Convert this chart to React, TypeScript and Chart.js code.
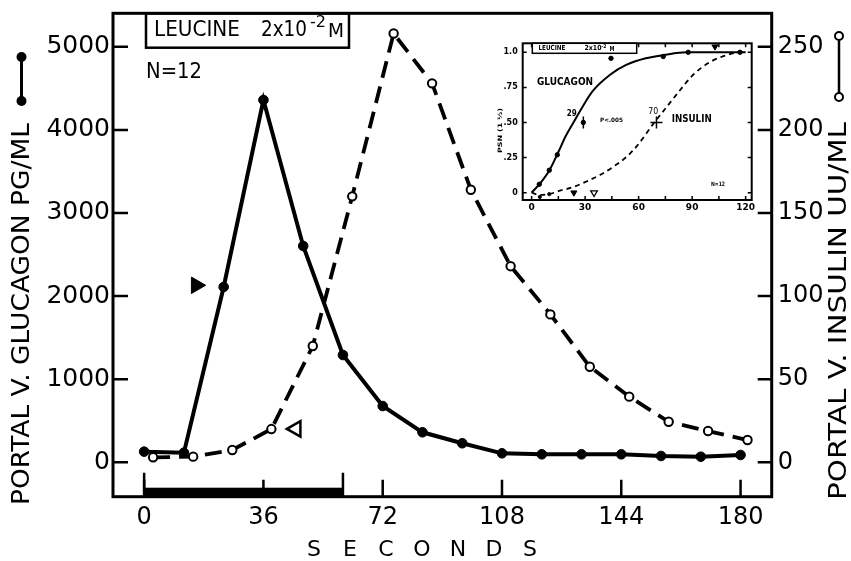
import React, { useEffect, useRef } from "react";
import { Chart, registerables } from "chart.js";
Chart.register(...registerables);

// ---------- main chart data ----------
const glucagonSeconds = [0, 12, 24, 36, 48, 60, 72, 84, 96, 108, 120, 132, 144, 156, 168, 180];
const glucagonPgMl = [128, 116, 2110, 4360, 2603, 1291, 677, 361, 229, 108, 96, 96, 96, 76, 67, 88];
const insulinSeconds = [2.7, 14.8, 26.6, 38.4, 50.9, 62.8, 75.3, 86.9, 98.6, 110.6, 122.6, 134.5, 146.4, 158.3, 170.2, 182.1];
const insulinUuMl = [3.0, 3.4, 7.4, 20, 70, 160, 258, 228, 164, 118, 89, 57.5, 39.5, 24.4, 18.8, 13.4];
const xTickValues = [0, 36, 72, 108, 144, 180];
const leftTickValues = [0, 1000, 2000, 3000, 4000, 5000];
const rightTickValues = [0, 50, 100, 150, 200, 250];
const infusionStart = 0;
const infusionEnd = 60;
const glucagonMarkerX = [15.7];
const glucagonMarkerY = [2130];
const insulinMarkerX = [45.8];
const insulinMarkerY = [20.1];

// ---------- inset data ----------
const insetGlucagonCurveX = [0, 5, 10, 15, 19, 23, 28, 34, 44, 53, 64, 74, 87, 120];
const insetGlucagonCurveY = [0, 0.07, 0.16, 0.29, 0.4, 0.49, 0.6, 0.72, 0.84, 0.91, 0.957, 0.98, 1.0, 1.0];
const insetInsulinCurveX = [0, 4.6, 9.9, 15.9, 23.3, 30.8, 38.3, 45.8, 53.3, 58.9, 68.2, 75.7, 83.2, 90.6, 100, 109.4, 116.8, 120];
const insetInsulinCurveY = [0, -0.016, -0.01, 0.014, 0.04, 0.08, 0.126, 0.185, 0.256, 0.33, 0.49, 0.61, 0.73, 0.84, 0.93, 0.98, 1.0, 1.0];
const insetGlucagonDotsX = [4.3, 9.9, 14.4, 44.5, 73.8, 87.8, 116.8];
const insetGlucagonDotsY = [0.06, 0.16, 0.27, 0.957, 0.97, 1.0, 1.0];
const insetInsulinDotsX = [4.6, 9.9];
const insetInsulinDotsY = [-0.03, -0.01];
const insetFilledDownX = [23.7, 102.8];
const insetFilledDownY = [0, 1.04];
const insetOpenDownX = [35];
const insetOpenDownY = [0];
const glucagonHalfTime = [29];
const insulinHalfTime = [70];
const halfLevel = [0.5];
const insetXTicks = [0, 30, 60, 90, 120];
const insetYTicks = [0, 0.25, 0.5, 0.75, 1.0];
const insetYTickLabels = ["0", ".25", ".50", ".75", "1.0"];

const FONT = "'DejaVu Sans', sans-serif";
const W = 851;
const H = 561;

function pts(xs: number[], ys: number[]) {
  return xs.map((x, i) => ({ x, y: ys[i] }));
}

function fitText(ctx: CanvasRenderingContext2D, text: string, cx: number, cy: number, length: number, font: string, rotate: boolean) {
  ctx.save();
  ctx.font = font;
  const w = ctx.measureText(text).width;
  ctx.translate(cx, cy);
  if (rotate) ctx.rotate(-Math.PI / 2);
  ctx.scale(length / w, 1);
  ctx.textAlign = "center";
  ctx.textBaseline = "middle";
  ctx.fillStyle = "#000";
  ctx.fillText(text, 0, 0);
  ctx.restore();
}

function noPad(s: any) {
  s.paddingTop = 0;
  s.paddingBottom = 0;
  s.paddingLeft = 0;
  s.paddingRight = 0;
}

const mainDecor = {
  id: "mainDecor",
  afterDraw(chart: any) {
    const ctx: CanvasRenderingContext2D = chart.ctx;
    const { left, right, top, bottom } = chart.chartArea;
    const xs = chart.scales.x;
    const yl = chart.scales.y;
    const yr = chart.scales.y1;
    ctx.save();
    ctx.strokeStyle = "#000";
    ctx.fillStyle = "#000";
    ctx.lineCap = "butt";
    // frame
    ctx.lineWidth = 3;
    ctx.strokeRect(left, top, right - left, bottom - top);
    // inward ticks
    ctx.lineWidth = 2.5;
    ctx.beginPath();
    leftTickValues.forEach((v) => {
      const y = yl.getPixelForValue(v);
      ctx.moveTo(left, y);
      ctx.lineTo(left + 15, y);
    });
    rightTickValues.forEach((v) => {
      const y = yr.getPixelForValue(v);
      ctx.moveTo(right, y);
      ctx.lineTo(right - 14, y);
    });
    xTickValues.forEach((v) => {
      const x = xs.getPixelForValue(v);
      ctx.moveTo(x, bottom);
      ctx.lineTo(x, bottom - 17);
    });
    ctx.stroke();
    // infusion bar
    const bx0 = xs.getPixelForValue(infusionStart);
    const bx1 = xs.getPixelForValue(infusionEnd);
    ctx.fillRect(bx0, bottom - 9, bx1 - bx0, 9);
    ctx.beginPath();
    ctx.moveTo(bx0, bottom);
    ctx.lineTo(bx0, bottom - 24);
    ctx.moveTo(bx1, bottom);
    ctx.lineTo(bx1, bottom - 24);
    ctx.stroke();

    // axis titles
    fitText(ctx, "PORTAL V. GLUCAGON PG/ML", 22.5, 314, 382, `24px ${FONT}`, true);
    fitText(ctx, "PORTAL V. INSULIN UU/ML", 840, 311, 378, `24px ${FONT}`, true);
    // x title
    ctx.font = `22px ${FONT}`;
    ctx.textAlign = "center";
    ctx.textBaseline = "middle";
    "SECONDS".split("").forEach((ch, i) => {
      ctx.fillText(ch, 314 + i * 36, 550);
    });

    // legend glyph left (filled)
    ctx.lineWidth = 3;
    ctx.beginPath();
    ctx.moveTo(21.5, 57);
    ctx.lineTo(21.5, 101);
    ctx.stroke();
    ctx.beginPath();
    ctx.arc(21.5, 57, 5, 0, Math.PI * 2);
    ctx.fill();
    ctx.beginPath();
    ctx.arc(21.5, 101, 5, 0, Math.PI * 2);
    ctx.fill();
    // legend glyph right (open)
    ctx.lineWidth = 2.5;
    ctx.beginPath();
    ctx.moveTo(839, 40);
    ctx.lineTo(839, 93);
    ctx.stroke();
    ctx.fillStyle = "#fff";
    ctx.lineWidth = 2;
    ctx.beginPath();
    ctx.arc(839, 36, 4, 0, Math.PI * 2);
    ctx.fill();
    ctx.stroke();
    ctx.beginPath();
    ctx.arc(839, 97, 4, 0, Math.PI * 2);
    ctx.fill();
    ctx.stroke();
    ctx.fillStyle = "#000";

    // label box
    ctx.lineWidth = 2.5;
    ctx.strokeRect(146, top, 203, 47.7 - top);
    fitText(ctx, "LEUCINE", 197, 31, 86, `21px ${FONT}`, false);
    fitText(ctx, "2x10", 284, 31, 46, `21px ${FONT}`, false);
    fitText(ctx, "-2", 318, 23, 16, `15px ${FONT}`, false);
    fitText(ctx, "M", 336, 32, 16, `19px ${FONT}`, false);
    // N=12
    fitText(ctx, "N=12", 174, 72, 56, `22px ${FONT}`, false);
    ctx.restore();
  },
};

const insetDecor = {
  id: "insetDecor",
  afterDraw(chart: any) {
    const ctx: CanvasRenderingContext2D = chart.ctx;
    const { left, right, top, bottom } = chart.chartArea;
    const xs = chart.scales.x;
    const ys = chart.scales.y;
    ctx.save();
    ctx.strokeStyle = "#000";
    ctx.fillStyle = "#000";
    ctx.lineWidth = 2;
    ctx.strokeRect(left, top, right - left, bottom - top);
    ctx.lineWidth = 1.5;
    ctx.beginPath();
    for (let v = 0; v <= 120; v += 15) {
      const x = xs.getPixelForValue(v);
      ctx.moveTo(x, bottom);
      ctx.lineTo(x, bottom - 4);
      ctx.moveTo(x, top);
      ctx.lineTo(x, top + 4);
    }
    insetYTicks.forEach((v) => {
      const y = ys.getPixelForValue(v);
      ctx.moveTo(left, y);
      ctx.lineTo(left + 4, y);
      ctx.moveTo(right, y);
      ctx.lineTo(right - 4, y);
    });
    ctx.stroke();
    // leucine box
    ctx.lineWidth = 1.5;
    ctx.fillStyle = "#fff";
    ctx.fillRect(42.3, top, 104.4, 10);
    ctx.fillStyle = "#000";
    ctx.strokeRect(42.3, top, 104.4, 10);
    fitText(ctx, "LEUCINE", 62, 13.6, 27, `bold 7px ${FONT}`, false);
    fitText(ctx, "2x10", 103, 13.6, 17, `bold 7px ${FONT}`, false);
    fitText(ctx, "-2", 114, 11.5, 5, `bold 5px ${FONT}`, false);
    fitText(ctx, "M", 122, 14, 5, `bold 7px ${FONT}`, false);
    fitText(ctx, "GLUCAGON", 75, 47, 56, `bold 11px ${FONT}`, false);
    fitText(ctx, "INSULIN", 201.7, 84.5, 40, `bold 10px ${FONT}`, false);
    fitText(ctx, "29", 81.7, 78.5, 10, `bold 9px ${FONT}`, false);
    fitText(ctx, "70", 163.3, 77, 10, `9px ${FONT}`, false);
    fitText(ctx, "P<.005", 121.5, 85.5, 23, `bold 6px ${FONT}`, false);
    fitText(ctx, "N=12", 228, 149, 14, `bold 6px ${FONT}`, false);
    fitText(ctx, "PSN (1 \u00bd)", 10, 95.5, 45, `bold 6px ${FONT}`, true);
    ctx.restore();
  },
};

function MainChart() {
  const ref = useRef<HTMLCanvasElement>(null);
  useEffect(() => {
    const canvas = ref.current!;
    const chart = new Chart(canvas, {
      type: "line",
      data: {
        datasets: [
          {
            label: "glucagonMarker",
            data: pts(glucagonMarkerX, glucagonMarkerY),
            showLine: false,
            yAxisID: "y",
            pointStyle: "triangle",
            rotation: 90,
            pointRadius: 9.5,
            backgroundColor: "#000",
            borderColor: "#000",
            borderWidth: 1,
          },
          {
            label: "insulinMarker",
            data: pts(insulinMarkerX, insulinMarkerY),
            showLine: false,
            yAxisID: "y1",
            pointStyle: "triangle",
            rotation: -90,
            pointRadius: 9,
            backgroundColor: "#fff",
            borderColor: "#000",
            borderWidth: 2.5,
          },
          {
            label: "Glucagon",
            data: pts(glucagonSeconds, glucagonPgMl),
            yAxisID: "y",
            borderColor: "#000",
            backgroundColor: "#000",
            borderWidth: 4,
            pointRadius: 4.8,
            pointBorderWidth: 1,
            pointBackgroundColor: "#000",
            tension: 0,
          },
          {
            label: "Insulin",
            data: pts(insulinSeconds, insulinUuMl),
            yAxisID: "y1",
            borderColor: "#000",
            borderWidth: 3.8,
            borderDash: [17, 9],
            pointRadius: 4.2,
            pointBorderWidth: 2,
            pointBackgroundColor: "#fff",
            pointBorderColor: "#000",
            tension: 0,
          },
        ],
      },
      options: {
        animation: false,
        responsive: false,
        devicePixelRatio: 1,
        events: [],
        layout: { padding: { top: 13.3, left: 0, right: 0, bottom: 0 } },
        plugins: { legend: { display: false }, tooltip: { enabled: false } },
        scales: {
          x: {
            type: "linear",
            min: -9.4,
            max: 189.4,
            afterBuildTicks: (s: any) => {
              s.ticks = xTickValues.map((v) => ({ value: v }));
            },
            afterFit: (s: any) => {
              s.height = H - 496.7;
              noPad(s);
            },
            grid: { display: false, drawTicks: false },
            border: { display: false },
            ticks: {
              autoSkip: false,
              maxRotation: 0,
              padding: 7,
              color: "#000",
              font: { family: FONT, size: 24 },
              callback: (v: any) => String(v),
            },
          },
          y: {
            position: "left",
            min: -414,
            max: 5403,
            afterBuildTicks: (s: any) => {
              s.ticks = leftTickValues.map((v) => ({ value: v }));
            },
            afterFit: (s: any) => {
              s.width = 113;
              noPad(s);
            },
            grid: { display: false, drawTicks: false },
            border: { display: false },
            ticks: { padding: 3, color: "#000", font: { family: FONT, size: 25 }, callback: (v: any) => String(v) },
          },
          y1: {
            position: "right",
            min: -20.7,
            max: 270.15,
            afterBuildTicks: (s: any) => {
              s.ticks = rightTickValues.map((v) => ({ value: v }));
            },
            afterFit: (s: any) => {
              s.width = W - 771.7;
              noPad(s);
            },
            grid: { display: false, drawTicks: false },
            border: { display: false },
            ticks: { padding: 6, color: "#000", font: { family: FONT, size: 24 }, callback: (v: any) => String(v) },
          },
        },
      },
      plugins: [mainDecor],
    } as any);
    return () => chart.destroy();
  }, []);
  return <canvas ref={ref} width={W} height={H} style={{ position: "absolute", left: 0, top: 0 }} />;
}

function InsetChart() {
  const ref = useRef<HTMLCanvasElement>(null);
  useEffect(() => {
    const canvas = ref.current!;
    const chart = new Chart(canvas, {
      type: "line",
      data: {
        datasets: [
          {
            label: "glucagonCurve",
            data: pts(insetGlucagonCurveX, insetGlucagonCurveY),
            borderColor: "#000",
            borderWidth: 2,
            pointRadius: 0,
            cubicInterpolationMode: "monotone",
          },
          {
            label: "insulinCurve",
            data: pts(insetInsulinCurveX, insetInsulinCurveY),
            borderColor: "#000",
            borderWidth: 1.8,
            borderDash: [5, 4],
            pointRadius: 0,
            cubicInterpolationMode: "monotone",
          },
          {
            label: "glucagonDots",
            data: pts(insetGlucagonDotsX, insetGlucagonDotsY),
            showLine: false,
            pointRadius: 2.2,
            pointBackgroundColor: "#000",
            pointBorderColor: "#000",
          },
          {
            label: "insulinDots",
            data: pts(insetInsulinDotsX, insetInsulinDotsY),
            showLine: false,
            pointRadius: 1.6,
            pointBackgroundColor: "#000",
            pointBorderColor: "#000",
          },
          {
            label: "filledDown",
            data: pts(insetFilledDownX, insetFilledDownY),
            showLine: false,
            pointStyle: "triangle",
            rotation: 180,
            pointRadius: 3.5,
            pointBackgroundColor: "#000",
            pointBorderColor: "#000",
          },
          {
            label: "openDown",
            data: pts(insetOpenDownX, insetOpenDownY),
            showLine: false,
            pointStyle: "triangle",
            rotation: 180,
            pointRadius: 3.8,
            pointBorderWidth: 1.3,
            pointBackgroundColor: "#fff",
            pointBorderColor: "#000",
          },
          {
            label: "glucagonHalfBar",
            data: pts(glucagonHalfTime, halfLevel),
            showLine: false,
            pointStyle: "line",
            rotation: 90,
            pointRadius: 6,
            pointBorderWidth: 1.5,
            pointBorderColor: "#000",
          },
          {
            label: "glucagonHalfDot",
            data: pts(glucagonHalfTime, halfLevel),
            showLine: false,
            pointRadius: 2.2,
            pointBackgroundColor: "#000",
            pointBorderColor: "#000",
          },
          {
            label: "insulinHalf",
            data: pts(insulinHalfTime, halfLevel),
            showLine: false,
            pointStyle: "cross",
            pointRadius: 6,
            pointBorderWidth: 1.5,
            pointBorderColor: "#000",
          },
        ],
      },
      options: {
        animation: false,
        responsive: false,
        devicePixelRatio: 1,
        events: [],
        layout: { padding: { top: 8.3, left: 0, right: 8.3, bottom: 0 } },
        plugins: { legend: { display: false }, tooltip: { enabled: false } },
        scales: {
          x: {
            type: "linear",
            min: -5,
            max: 123.4,
            afterBuildTicks: (s: any) => {
              s.ticks = insetXTicks.map((v) => ({ value: v }));
            },
            afterFit: (s: any) => {
              s.height = 20;
              noPad(s);
            },
            grid: { display: false, drawTicks: false },
            border: { display: false },
            ticks: {
              autoSkip: false,
              maxRotation: 0,
              padding: 2,
              color: "#000",
              font: { family: FONT, size: 9, weight: "bold" },
            },
          },
          y: {
            min: -0.052,
            max: 1.064,
            afterBuildTicks: (s: any) => {
              s.ticks = insetYTicks.map((v) => ({ value: v }));
            },
            afterFit: (s: any) => {
              s.width = 32.7;
              noPad(s);
            },
            grid: { display: false, drawTicks: false },
            border: { display: false },
            ticks: {
              padding: 5,
              color: "#000",
              font: { family: FONT, size: 8, weight: "bold" },
              callback: (v: any) => {
                const i = insetYTicks.indexOf(Number(v));
                return i >= 0 ? insetYTickLabels[i] : "";
              },
            },
          },
        },
      },
      plugins: [insetDecor],
    } as any);
    return () => chart.destroy();
  }, []);
  return <canvas ref={ref} width={270} height={185} style={{ position: "absolute", left: 490, top: 35 }} />;
}

export default function App() {
  return (
    <div style={{ position: "absolute", left: 0, top: 0, width: W, height: H, background: "#fff" }}>
      <MainChart />
      <InsetChart />
    </div>
  );
}
